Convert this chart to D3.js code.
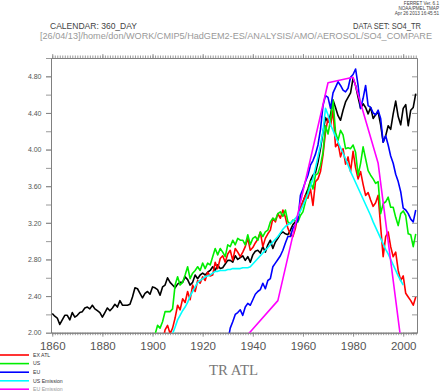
<!DOCTYPE html>
<html><head><meta charset="utf-8">
<script src="https://cdn.jsdelivr.net/npm/d3@7"></script>
<style>body{margin:0;background:#fff}svg{display:block}</style>
</head><body><svg id="c" width="440" height="391"></svg>
<script>
// ---------------- DATA ----------------
const xTickLabels = [1860, 1880, 1900, 1920, 1940, 1960, 1980, 2000];
const yTickLabels = [2.0, 2.4, 2.8, 3.2, 3.6, 4.0, 4.4, 4.8];

// TR ATL (black), annual from 1860
const trAtlStart = 1860;
const trAtl = [
 2.21,2.18,2.16,2.09,2.14,2.19,2.19,2.14,2.22,2.17,
 2.19,2.22,2.23,2.27,2.28,2.26,2.30,2.26,2.24,2.22,
 2.17,2.22,2.27,2.24,2.27,2.31,2.28,2.35,2.30,2.30,
 2.30,2.31,2.39,2.49,2.48,2.43,2.38,2.43,2.45,2.42,
 2.50,
 2.49,2.47,2.41,2.50,2.52,2.60,2.55,2.52,2.49,2.53,
 2.55,2.55,2.61,2.58,2.52,2.55,2.63,2.59,2.63,2.65,
 2.63,2.66,2.68,2.72,2.68,2.74,2.70,2.71,
 2.75,2.79,2.79,2.77,2.84,2.80,2.82,2.84,2.79,2.83,2.77,2.85,
 2.89,2.90,2.87,2.94,2.88,2.96,3.01,2.92,2.99,3.03,
 3.08,3.10,3.08,3.07,3.12,3.18,3.21,3.25,3.36,3.43,
 3.50,3.57,3.66,3.72,3.75,3.86,4.01,4.19,4.35,4.30,
 4.38,4.54,4.46,4.37,4.32,4.43,4.52,4.57,4.62,4.78,
 4.70,4.57,4.45,4.50,4.46,4.39,4.46,4.34,4.38,4.41,
 4.27,4.08,4.15,4.26,4.22,4.39,4.53,4.36,4.27,4.45,
 4.49,4.26,4.43,4.46,4.61
];

// EX ATL (red), annual from 1904
const exAtlStart = 1904;
const exAtl = [
 1.90,2.03,2.08,1.99,2.05,2.16,2.30,
 2.25,2.37,2.33,2.45,2.36,2.52,2.45,2.57,2.54,2.61,
 2.57,2.66,2.62,2.63,2.77,2.70,2.81,2.84,2.77,2.86,
 2.90,2.79,2.92,2.88,2.83,2.88,2.94,3.03,2.90,2.93,
 2.98,3.02,3.10,2.94,3.03,3.08,3.12,3.25,3.21,3.30,
 3.25,3.34,3.26,3.14,3.07,3.05,3.14,3.28,3.36,3.43,
 3.50,3.47,3.57,3.39,3.65,3.68,3.76,3.94,4.19,4.34,
 4.26,4.43,4.03,4.07,3.92,4.01,3.84,3.92,3.76,3.98,
 3.80,3.68,3.76,3.62,3.50,3.53,3.45,3.38,3.42,3.50,
 3.16,2.83,3.05,3.10,2.94,2.83,2.88,2.68,2.57,2.62,
 2.43,2.39,2.35,2.30,2.39
];

// US (green), annual from 1900
const usStart = 1900;
const us = [
 1.85,1.98,2.08,2.05,2.12,2.23,2.23,2.23,2.26,2.52,2.61,
 2.52,2.55,2.63,2.72,2.59,2.65,2.68,2.72,2.68,2.76,
 2.70,2.76,2.74,2.83,2.92,2.85,2.92,2.88,2.83,2.96,
 2.94,3.01,2.96,3.03,3.01,3.01,2.96,3.07,2.96,3.03,
 3.05,3.01,3.10,3.05,3.10,3.12,3.21,3.25,3.23,3.30,
 3.32,3.27,3.34,3.21,3.19,3.23,3.22,3.21,3.28,3.32,
 3.43,3.54,3.65,3.57,3.72,3.74,3.83,3.97,4.26,4.17,
 4.32,4.54,4.19,4.10,4.21,4.16,4.01,4.02,4.01,4.05,
 3.97,3.72,3.85,4.03,3.90,3.77,3.72,3.68,3.63,3.65,
 3.30,3.41,3.43,3.48,3.37,3.37,3.26,3.17,3.30,3.33,
 3.28,3.08,3.07,2.94,3.08
];

// EU (blue), annual from 1930
const euStart = 1930;
const eu = [
 1.90,
 2.05,2.12,2.20,2.22,2.25,2.19,2.28,2.32,2.30,2.36,
 2.42,2.45,2.47,2.54,2.48,2.57,2.59,2.72,2.76,2.80,
 2.84,2.90,2.98,3.05,3.05,3.14,3.18,3.23,3.50,3.57,
 3.65,3.72,3.83,3.88,3.95,4.05,4.22,4.48,4.59,4.57,
 4.45,4.62,4.68,4.74,4.70,4.65,4.63,4.67,4.79,4.82,
 4.88,4.70,4.45,4.56,4.70,4.48,4.46,4.40,4.38,4.43,
 4.34,4.08,4.15,4.05,3.93,3.85,3.73,3.65,3.54,3.36,
 3.34,3.30,3.24,3.21,3.34
];

// US Emission (cyan), annual from 1907
const usEmStart = 1907;
const usEm = [
 1.92,1.99,2.06,2.14,
 2.19,2.24,2.28,2.33,2.40,2.45,2.50,2.55,2.57,2.59,
 2.61,2.62,2.63,2.65,2.67,2.67,2.68,2.68,2.68,2.69,
 2.69,2.70,2.70,2.70,2.70,2.71,2.71,2.71,2.72,2.75,
 2.78,2.81,2.84,2.87,2.90,2.93,2.96,2.99,3.02,3.05,
 3.09,3.13,3.16,3.18,3.20,3.22,3.25,3.28,3.33,3.39,
 3.45,3.52,3.60,3.68,3.80,3.92,4.05,4.20,4.45,4.38,
 4.27,4.21,4.14,4.08,4.02,3.96,3.90,3.83,3.76,3.70,
 3.64,3.58,3.52,3.46,3.40,3.34,3.28,3.21,3.15,3.09,
 3.03,2.97,2.91,2.86,2.80,2.74,2.68,2.62,2.57,2.52
];

// EU Emission (magenta), decadal
const euEmYears = [1930, 1940, 1950, 1960, 1970, 1980, 1990, 2000];
const euEm = [1.73, 2.04, 2.35, 3.54, 4.73, 4.79, 3.85, 1.72];

const legendLabels = ["EX ATL", "US", "EU", "US Emission", "EU Emission"];
const legendColors = ["#ff0000", "#00ee00", "#0000ff", "#00ffff", "#ff00ff"];

// ---------------- CHART ----------------
const svg = d3.select('#c');
const L = 51, R = 417, T = 58, B = 332.7;
const x = d3.scaleLinear().domain([1859.5, 2005.5]).range([L, R]);
const y = d3.scaleLinear().domain([2, 5]).range([B, T]);
const axisCol = '#808080', labCol = '#555';
const font = 'Liberation Sans, Arial, sans-serif';

svg.append('rect').attr('width', 440).attr('height', 391).attr('fill', '#fff');

// header texts
const stamp = ["FERRET Ver. 6.1", "NOAA/PMEL TMAP", "Apr 26 2013 16:45:51"];
svg.selectAll('text.stamp').data(stamp).join('text').attr('class','stamp')
  .attr('x', 439).attr('y', (d,i) => 5 + i*5.2).attr('text-anchor','end')
  .attr('font-family', font).attr('font-size', 4.6).attr('fill', '#444').text(d => d);

svg.append('text').attr('x', 50).attr('y', 28.5).attr('font-family', font)
  .attr('font-size', 9).attr('fill', '#444').attr('textLength', 87).attr('lengthAdjust','spacingAndGlyphs')
  .text('CALENDAR: 360_DAY');
svg.append('text').attr('x', 353).attr('y', 28.5).attr('font-family', font)
  .attr('font-size', 9).attr('fill', '#444').attr('textLength', 68).attr('lengthAdjust','spacingAndGlyphs')
  .text('DATA SET: SO4_TR');
svg.append('text').attr('x', 40).attr('y', 38.5).attr('font-family', font)
  .attr('font-size', 9.3).attr('fill', '#999').attr('textLength', 392).attr('lengthAdjust','spacingAndGlyphs')
  .text('[26/04/13]/home/don/WORK/CMIP5/HadGEM2-ES/ANALYSIS/AMO/AEROSOL/SO4_COMPARE');

// axes
function styleAxis(g) {
  g.selectAll('path.domain').attr('stroke', axisCol).attr('stroke-width', 1);
  g.selectAll('.tick line').attr('stroke', axisCol).attr('stroke-width', 0.8);
  g.selectAll('.tick text').attr('fill', labCol).attr('font-family', font);
}
const yearTicks = d3.range(1860, 2006);
const yMinor = d3.range(0, 16).map(i => +(2 + i*0.2).toFixed(1));

// bottom
svg.append('g').attr('transform', `translate(0,${B})`)
  .call(d3.axisBottom(x).tickValues(yearTicks).tickSize(2.5).tickSizeOuter(0).tickFormat(''))
  .call(styleAxis);
svg.append('g').attr('transform', `translate(0,${B})`)
  .call(d3.axisBottom(x).tickValues(xTickLabels).tickSize(4).tickSizeOuter(0).tickFormat(d3.format('d')))
  .call(styleAxis)
  .call(g => g.selectAll('.tick text').attr('font-size', 11.5).attr('y', 17.5).attr('dy', 0));
// top
svg.append('g').attr('transform', `translate(0,${T})`)
  .call(d3.axisTop(x).tickValues(yearTicks).tickSize(2.5).tickSizeOuter(0).tickFormat(''))
  .call(styleAxis);
svg.append('g').attr('transform', `translate(0,${T})`)
  .call(d3.axisTop(x).tickValues(xTickLabels).tickSize(4).tickSizeOuter(0).tickFormat(''))
  .call(styleAxis);
// left
svg.append('g').attr('transform', `translate(${L},0)`)
  .call(d3.axisLeft(y).tickValues(yMinor).tickSize(5).tickSizeOuter(0).tickFormat(''))
  .call(styleAxis);
svg.append('g').attr('transform', `translate(${L},0)`)
  .call(d3.axisLeft(y).tickValues(yTickLabels).tickSize(5).tickPadding(4.5).tickSizeOuter(0).tickFormat(d3.format('.2f')))
  .call(styleAxis)
  .call(g => g.selectAll('.tick text').attr('font-size', 7));
// right (inward ticks)
svg.append('g').attr('transform', `translate(${R},0)`)
  .call(d3.axisRight(y).tickValues(yMinor).tickSize(-5).tickSizeOuter(0).tickFormat(''))
  .call(styleAxis);

// clip
svg.append('clipPath').attr('id', 'pc').append('rect')
  .attr('x', L).attr('y', T).attr('width', R - L).attr('height', B - T);
const plot = svg.append('g').attr('clip-path', 'url(#pc)');
const line = d3.line().x(d => x(d[0])).y(d => y(d[1]));
const annual = (start, vals) => vals.map((v, i) => [start + i, v]);

const series = [
  {pts: annual(trAtlStart, trAtl), col: '#000'},
  {pts: annual(exAtlStart, exAtl), col: legendColors[0]},
  {pts: annual(usStart, us), col: legendColors[1]},
  {pts: annual(euStart, eu), col: legendColors[2]},
  {pts: annual(usEmStart, usEm), col: legendColors[3]},
  {pts: euEmYears.map((yr, i) => [yr, euEm[i]]), col: legendColors[4]}
];
plot.selectAll('path.s').data(series).join('path').attr('class','s')
  .attr('d', d => line(d.pts)).attr('fill', 'none').attr('stroke', d => d.col)
  .attr('stroke-width', 1.6).attr('stroke-linejoin', 'round');

// x title
svg.append('text').attr('x', 233.5).attr('y', 374.5).attr('text-anchor', 'middle')
  .attr('font-family', 'Liberation Serif, Times New Roman, serif').attr('font-size', 15.5)
  .attr('fill', '#777').attr('textLength', 49).attr('lengthAdjust','spacingAndGlyphs').text('TR ATL');

// legend
const legY = [355, 363.6, 372.2, 380.8, 389.2];
const lg = svg.append('g');
legendLabels.forEach((lab, i) => {
  lg.append('line').attr('x1', 0).attr('x2', 29).attr('y1', legY[i]).attr('y2', legY[i])
    .attr('stroke', legendColors[i]).attr('stroke-width', 1.6);
  lg.append('text').attr('x', 33).attr('y', legY[i] + 1.8).attr('font-family', font)
    .attr('font-size', 5.2).attr('fill', i === 4 ? '#999' : '#333').text(lab);
});
</script></body></html>
